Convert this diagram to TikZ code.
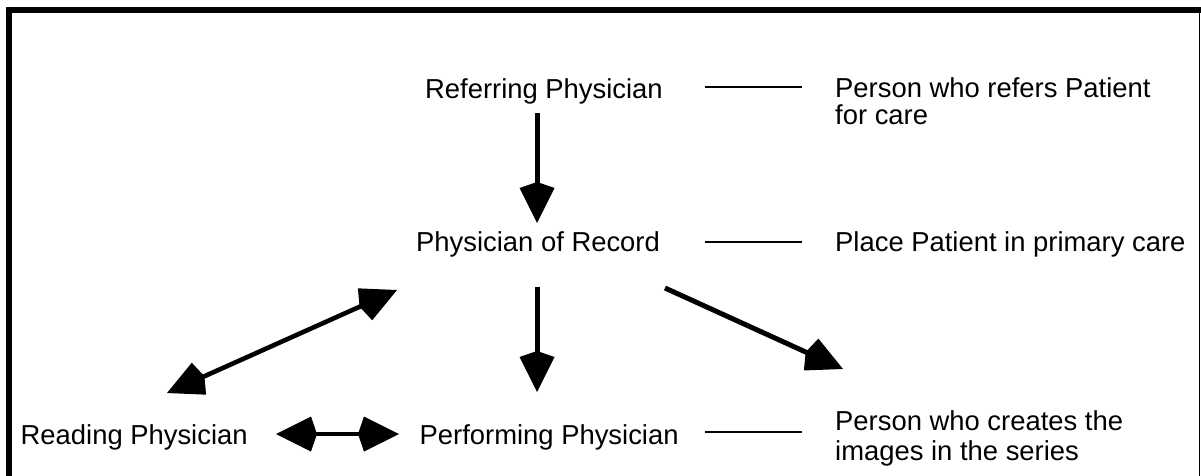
\documentclass[tikz,border=0pt]{standalone}
\usepackage{fontspec}
\setmainfont{Liberation Sans}
\usetikzlibrary{arrows.meta}
\begin{document}
\begin{tikzpicture}[x=1pt,y=-1pt,
  lbl/.style={inner sep=0pt, anchor=base west, font=\fontsize{27.4}{30}\selectfont},
  head/.tip={Kite[length=41pt,width=35pt,inset=6pt]},
  conn/.style={line width=5pt, -head},
  dbl/.style={line width=4.6pt, head-head},
  tie/.style={line width=1.1pt},
  frame/.style={line width=6pt}]
\useasboundingbox (0,0) rectangle (1201,475);
% frame
\draw[frame] (9,480) -- (9,10) -- (1205,10);
\draw[line width=1.5pt] (1199.5,10) -- (1199.5,480);
% nodes
\node[lbl] (ref)  at (425,98)  {Referring Physician};
\node[lbl] (rec)  at (416,251) {Physician of Record};
\node[lbl] (perf) at (419.5,444) {Performing Physician};
\node[lbl] (read) at (20.5,444) {Reading Physician};
\node[lbl] (d1) at (835,97) {\begin{tabular}[t]{@{}l@{}}Person who refers Patient\\[-3pt]for care\end{tabular}};
\node[lbl] (d2) at (835,251) {Place Patient in primary care};
\node[lbl] (d3) at (835,430) {\begin{tabular}[t]{@{}l@{}}Person who creates the\\images in the series\end{tabular}};
% connector end points
\coordinate (t1a) at (705,87);  \coordinate (t1b) at (802,87);
\coordinate (t2a) at (705,242); \coordinate (t2b) at (802,242);
\coordinate (t3a) at (705,432); \coordinate (t3b) at (802,432);
\coordinate (refS) at (537,113);  \coordinate (recN) at (537,223);
\coordinate (recS) at (537,287);  \coordinate (perfN) at (537,392);
\coordinate (recSE) at (665,288); \coordinate (d3N) at (843,369);
\coordinate (readN) at (167,393); \coordinate (recSW) at (397,290);
\coordinate (readE) at (276,434); \coordinate (perfW) at (399,434);
% ties
\draw[tie] (t1a) -- (t1b);
\draw[tie] (t2a) -- (t2b);
\draw[tie] (t3a) -- (t3b);
% arrows
\draw[conn] (refS) -- (recN);
\draw[conn] (recS) -- (perfN);
\draw[conn] (recSE) -- (d3N);
\draw[dbl] (readN) -- (recSW);
\draw[dbl] (readE) -- (perfW);
\end{tikzpicture}
\end{document}
